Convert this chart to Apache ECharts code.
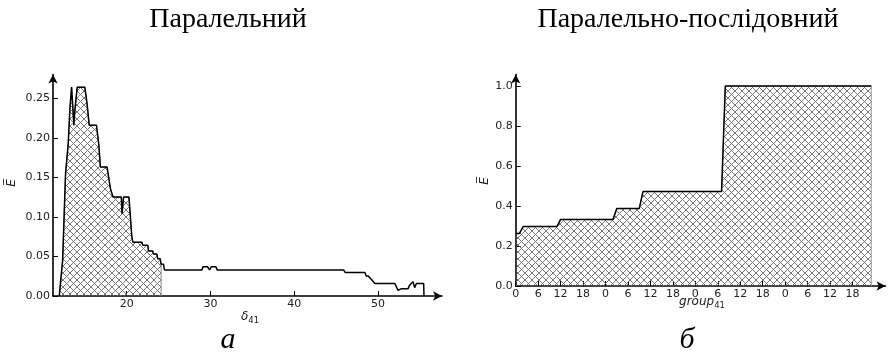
<!DOCTYPE html>
<html>
<head>
<meta charset="utf-8">
<script src="https://cdn.jsdelivr.net/npm/echarts@6/dist/echarts.min.js"></script>
<style>
  html, body { margin: 0; padding: 0; background: #fff; }
  #chart { width: 896px; height: 355px; }
</style>
</head>
<body>
<div id="chart"></div>
<script>
// Left panel: mean efficiency vs. delta_41 (stepped trace)
const parallelX = [11.95, 12.35, 12.70, 13.02, 13.22, 13.34, 13.42, 13.69, 13.81, 14.00, 14.09, 15.00, 15.28, 15.52, 16.39, 16.67, 16.86, 17.66, 18.05, 18.37, 19.36, 19.44, 19.55, 19.63, 20.27, 20.62, 20.74, 21.81, 21.93, 22.52, 22.60, 23.10, 23.20, 23.60, 23.71, 24.00, 24.11, 24.40, 24.50, 29.00, 29.10, 29.65, 29.90, 30.10, 30.65, 30.80, 45.60, 45.75, 45.90, 46.10, 48.45, 48.60, 48.85, 49.20, 49.40, 49.64, 51.10, 51.22, 51.35, 52.02, 52.21, 52.41, 52.81, 53.60, 53.80, 54.19, 54.39, 54.59, 55.46, 55.50];
const parallelY = [0.000, 0.045, 0.155, 0.193, 0.237, 0.237, 0.264, 0.216, 0.235, 0.235, 0.264, 0.264, 0.242, 0.216, 0.216, 0.191, 0.163, 0.163, 0.136, 0.125, 0.125, 0.104, 0.104, 0.125, 0.125, 0.074, 0.068, 0.068, 0.064, 0.064, 0.057, 0.057, 0.053, 0.053, 0.047, 0.047, 0.040, 0.040, 0.033, 0.033, 0.037, 0.037, 0.033, 0.037, 0.037, 0.033, 0.033, 0.031, 0.033, 0.0297, 0.0297, 0.0254, 0.0254, 0.0212, 0.0212, 0.0157, 0.0157, 0.018, 0.0157, 0.0157, 0.0115, 0.0072, 0.0093, 0.0093, 0.014, 0.018, 0.0106, 0.0157, 0.0157, 0.000];
// the hatched region under the left trace ends at this delta_41
const parallelFillEnd = 24.11;
const parallelXTicks = [20, 30, 40, 50];
const parallelYTicks = [0, 0.05, 0.10, 0.15, 0.20, 0.25];

// Right panel: mean efficiency vs. hour of group_41 (4 days)
const seqHours = [0, 1, 2, 11, 12, 26, 27, 33, 34, 55, 56, 95];
const seqE = [0.263, 0.263, 0.297, 0.297, 0.333, 0.333, 0.387, 0.387, 0.472, 0.472, 1.0, 1.0];
const seqXTicks = [0, 6, 12, 18, 24, 30, 36, 42, 48, 54, 60, 66, 72, 78, 84, 90];
const seqYTicks = [0, 0.2, 0.4, 0.6, 0.8, 1.0];

const titles = ['Паралельний', 'Паралельно-послідовний'];
const captions = ['а', 'б'];

// crosshatch tile used as the area fill
function hatchTile(size, color) {
  const c = document.createElement('canvas');
  c.width = size; c.height = size;
  const g = c.getContext('2d');
  g.strokeStyle = color;
  g.lineWidth = 0.9;
  for (const o of [-size, 0, size]) {
    g.beginPath(); g.moveTo(o, 0); g.lineTo(o + size, size); g.stroke();
    g.beginPath(); g.moveTo(o + size, 0); g.lineTo(o, size); g.stroke();
  }
  return c;
}
const hatch = { image: hatchTile(7, '#6a6a6a'), repeat: 'repeat' };

const parallelLine = parallelX.map((x, i) => [x, parallelY[i]]);
const parallelArea = parallelLine.filter(p => p[0] <= parallelFillEnd);
parallelArea.push([parallelFillEnd, 0]);
const seqLine = seqHours.map((h, i) => [h, seqE[i]]);
const seqArea = seqLine.concat([[seqHours[seqHours.length - 1], 0]]);

const tickFont = { fontFamily: 'DejaVu Sans', fontSize: 11, color: '#222' };
const axisLine = {
  show: true, onZero: false,
  symbol: ['none', 'arrow'], symbolSize: [7, 9],
  lineStyle: { color: '#000', width: 1.6 }
};
const axisTick = (vals) => ({ show: true, inside: true, length: 5, customValues: vals, lineStyle: { color: '#000', width: 1 } });

const chart = echarts.init(document.getElementById('chart'), null, { renderer: 'canvas' });
chart.setOption({
  animation: false,
  backgroundColor: '#fff',
  grid: [
    { left: 53, right: 454, top: 74.5, bottom: 59 },
    { left: 515.7, right: 10.5, top: 74.5, bottom: 69 }
  ],
  xAxis: [
    {
      gridIndex: 0, type: 'value', min: 11.2, max: 57.65,
      axisLine: axisLine, axisTick: axisTick(parallelXTicks),
      axisLabel: Object.assign({ margin: 3, customValues: parallelXTicks }, tickFont),
      splitLine: { show: false }
    },
    {
      gridIndex: 1, type: 'value', min: 0, max: 98.8,
      axisLine: axisLine, axisTick: axisTick(seqXTicks),
      axisLabel: Object.assign({ margin: 3, customValues: seqXTicks, formatter: v => String(Math.round(v) % 24) }, tickFont),
      splitLine: { show: false }
    }
  ],
  yAxis: [
    {
      gridIndex: 0, type: 'value', min: 0, max: 0.28,
      axisLine: axisLine, axisTick: axisTick(parallelYTicks),
      axisLabel: Object.assign({ margin: 3, customValues: parallelYTicks, formatter: v => v.toFixed(2) }, tickFont),
      splitLine: { show: false }
    },
    {
      gridIndex: 1, type: 'value', min: 0, max: 1.0575,
      axisLine: axisLine, axisTick: axisTick(seqYTicks),
      axisLabel: Object.assign({ margin: 3, customValues: seqYTicks, formatter: v => v.toFixed(1) }, tickFont),
      splitLine: { show: false }
    }
  ],
  series: [
    {
      type: 'line', xAxisIndex: 0, yAxisIndex: 0, data: parallelArea,
      symbol: 'none', silent: true, z: 1,
      lineStyle: { color: '#8a8a8a', width: 1 },
      areaStyle: { color: hatch, opacity: 1, origin: 'start' }
    },
    {
      type: 'line', xAxisIndex: 0, yAxisIndex: 0, data: parallelLine,
      symbol: 'none', silent: true, z: 2,
      lineStyle: { color: '#000', width: 1.5 }
    },
    {
      type: 'line', xAxisIndex: 1, yAxisIndex: 1, data: seqArea,
      symbol: 'none', silent: true, z: 1,
      lineStyle: { color: '#9a9a9a', width: 1 },
      areaStyle: { color: hatch, opacity: 1, origin: 'start' }
    },
    {
      type: 'line', xAxisIndex: 1, yAxisIndex: 1, data: seqLine,
      symbol: 'none', silent: true, z: 2,
      lineStyle: { color: '#000', width: 1.5 }
    }
  ],
  graphic: [
    { type: 'text', x: 228, y: 20, style: { text: titles[0], font: '28px "Liberation Serif"', fill: '#000', align: 'center', verticalAlign: 'middle' } },
    { type: 'text', x: 688, y: 20, style: { text: titles[1], font: '28px "Liberation Serif"', fill: '#000', align: 'center', verticalAlign: 'middle' } },
    { type: 'text', x: 228, y: 340, style: { text: captions[0], font: 'italic 30px "Liberation Serif"', fill: '#000', align: 'center', verticalAlign: 'middle' } },
    { type: 'text', x: 687, y: 340, style: { text: captions[1], font: 'italic 30px "Liberation Serif"', fill: '#000', align: 'center', verticalAlign: 'middle' } },
    // axis names
    { type: 'text', x: 12, y: 183, rotation: Math.PI / 2, style: { text: 'E\u0305', font: 'italic 12px "DejaVu Sans"', fill: '#222', align: 'center', verticalAlign: 'middle' } },
    { type: 'text', x: 485, y: 181, rotation: Math.PI / 2, style: { text: 'E\u0305', font: 'italic 12px "DejaVu Sans"', fill: '#222', align: 'center', verticalAlign: 'middle' } },
    {
      type: 'text', x: 250, y: 317,
      style: {
        text: '{a|δ}{s|41}', align: 'center', verticalAlign: 'middle',
        rich: {
          a: { fontFamily: 'DejaVu Sans', fontStyle: 'italic', fontSize: 12, fill: '#222', verticalAlign: 'bottom' },
          s: { fontFamily: 'DejaVu Sans', fontSize: 8.5, fill: '#222', verticalAlign: 'bottom', padding: [0, 0, -2, 0] }
        }
      }
    },
    {
      type: 'text', x: 702, y: 302,
      style: {
        text: '{a|group}{s|41}', align: 'center', verticalAlign: 'middle',
        rich: {
          a: { fontFamily: 'DejaVu Sans', fontStyle: 'italic', fontSize: 12, fill: '#222', verticalAlign: 'bottom' },
          s: { fontFamily: 'DejaVu Sans', fontSize: 8.5, fill: '#222', verticalAlign: 'bottom', padding: [0, 0, -2, 0] }
        }
      }
    }
  ]
});
</script>
</body>
</html>
